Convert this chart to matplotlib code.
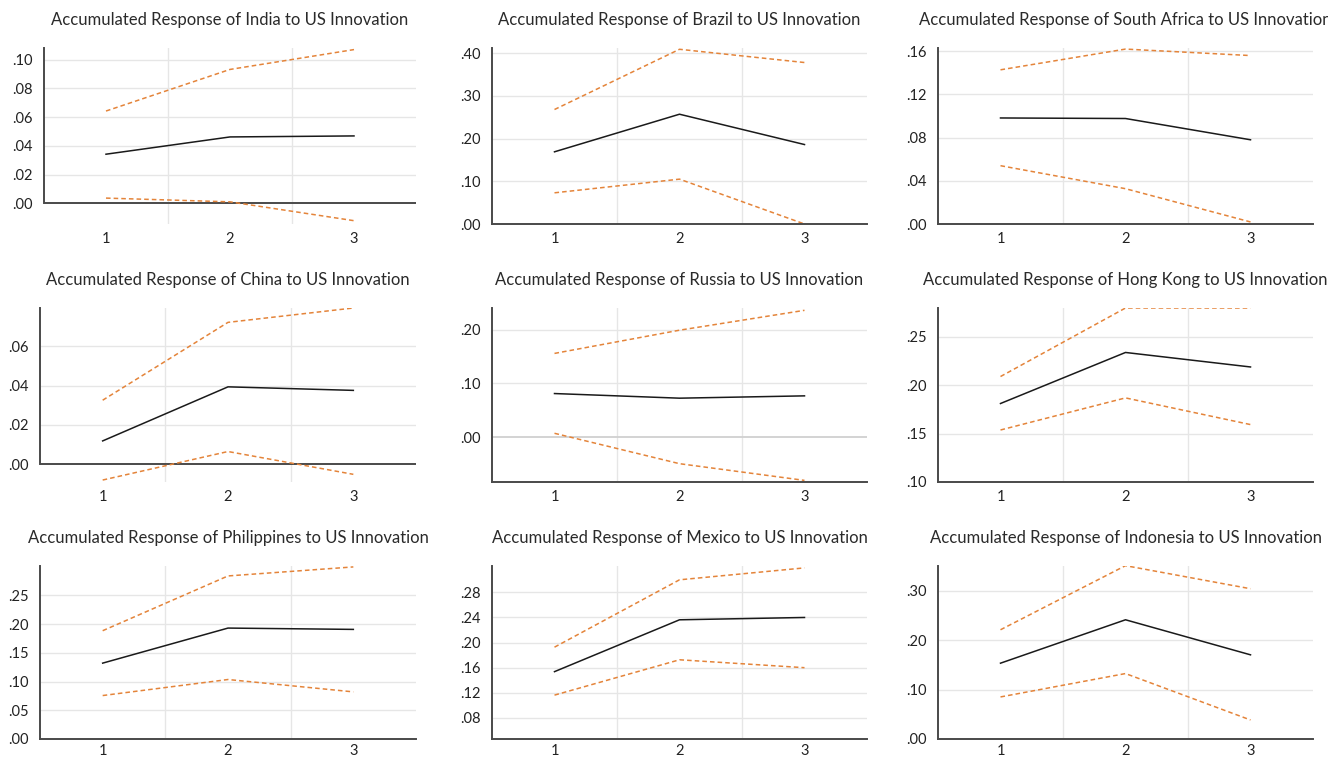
import matplotlib
matplotlib.use("Agg")
import matplotlib.pyplot as plt
from matplotlib.ticker import FuncFormatter

plt.rcParams['font.family'] = ['Lato', 'DejaVu Sans']

horizons = [1, 2, 3]

countries = ["India", "Brazil", "South Africa",
             "China", "Russia", "Hong Kong",
             "Philippines", "Mexico", "Indonesia"]

# accumulated impulse responses (point estimate)
response = [
    [0.0342, 0.0462, 0.0469],
    [0.169, 0.257, 0.186],
    [0.0982, 0.0977, 0.078],
    [0.0119, 0.0394, 0.0376],
    [0.0812, 0.0726, 0.0769],
    [0.1812, 0.234, 0.219],
    [0.132, 0.193, 0.1907],
    [0.1537, 0.2363, 0.240],
    [0.1534, 0.2412, 0.1703],
]

# +/- 2 S.E. bands
upper = [
    [0.0642, 0.0931, 0.1069],
    [0.268, 0.409, 0.378],
    [0.1428, 0.162, 0.156],
    [0.0326, 0.0722, 0.0795],
    [0.1557, 0.1988, 0.2357],
    [0.2091, 0.280, 0.280],
    [0.1884, 0.2837, 0.2994],
    [0.1927, 0.300, 0.319],
    [0.221, 0.3507, 0.304],
]
lower = [
    [0.0037, 0.0011, -0.012],
    [0.073, 0.105, 0.0],
    [0.054, 0.0327, 0.0019],
    [-0.008, 0.0065, -0.0051],
    [0.0074, -0.049, -0.080],
    [0.1538, 0.187, 0.1594],
    [0.0756, 0.1035, 0.082],
    [0.1163, 0.1726, 0.160],
    [0.0851, 0.1324, 0.0385],
]

y_ticks = [
    [0.00, 0.02, 0.04, 0.06, 0.08, 0.10],
    [0.0, 0.1, 0.2, 0.3, 0.4],
    [0.00, 0.04, 0.08, 0.12, 0.16],
    [0.00, 0.02, 0.04, 0.06],
    [0.0, 0.1, 0.2],
    [0.10, 0.15, 0.20, 0.25],
    [0.00, 0.05, 0.10, 0.15, 0.20, 0.25],
    [0.08, 0.12, 0.16, 0.20, 0.24, 0.28],
    [0.0, 0.1, 0.2, 0.3],
]
y_ranges = [
    (-0.0143, 0.108), (0.0, 0.412), (0.0, 0.163),
    (-0.009, 0.0795), (-0.083, 0.240), (0.10, 0.280),
    (0.0, 0.301), (0.0464, 0.322), (0.0, 0.350),
]

W, H = 1328, 757
fig = plt.figure(figsize=(W / 100, H / 100), dpi=100)

col_left = [[44, 492, 938], [40, 492, 938], [40, 492, 938]]
col_right = [416, 867, 1313]
row_top = [48, 308, 566]
row_bottom = [224, 482, 739]
x_pad = [6, 6, 3.5]

orange = '#E4843A'
grid_c = '#E6E6E6'
spine_c = '#4A4A4A'

fmt = FuncFormatter(lambda v, p: ("%.2f" % v).replace("0.", ".", 1))

for i, name in enumerate(countries):
    r, c = divmod(i, 3)
    l, rr = col_left[r][c], col_right[c]
    t, b = row_top[r], row_bottom[r]
    ax = fig.add_axes([l / W, 1 - b / H, (rr - l) / W, (b - t) / H])

    ax.set_xlim(0.5, 3.5)
    ax.set_ylim(*y_ranges[i])
    ax.set_xticks(horizons)
    ax.set_yticks(y_ticks[i])
    ax.yaxis.set_major_formatter(fmt)

    for gx in (1.5, 2.5):
        ax.axvline(gx, color=grid_c, lw=1.0, zorder=0)
    for gy in y_ticks[i]:
        if gy != 0:
            ax.axhline(gy, color=grid_c, lw=1.0, zorder=0)

    lo, hi = y_ranges[i]
    for s in ('top', 'right'):
        ax.spines[s].set_visible(False)
    ax.spines['left'].set_color(spine_c)
    ax.spines['left'].set_linewidth(1.4)
    ax.spines['bottom'].set_color(spine_c)
    ax.spines['bottom'].set_linewidth(1.4)

    if lo < 0:
        if name == "Russia":
            ax.axhline(0, color='#D0D0D0', lw=1.3, zorder=1)
        else:
            ax.spines['bottom'].set_visible(False)
            ax.spines['left'].set_bounds(0, hi)
            ax.axhline(0, color=spine_c, lw=1.4, zorder=1)

    ax.plot(horizons, upper[i], color=orange, lw=1.1, ls=(0, (3, 2)), zorder=2)
    ax.plot(horizons, lower[i], color=orange, lw=1.1, ls=(0, (3, 2)), zorder=2)
    ax.plot(horizons, response[i], color='#1A1A1A', lw=1.1, zorder=3)

    ax.tick_params(axis='both', length=0, labelsize=10.5, colors='#222222')
    ax.tick_params(axis='y', pad=8)
    ax.tick_params(axis='x', pad=x_pad[r])

    ax.annotate("Accumulated Response of %s to US Innovation" % name,
                xy=(0.5, 1), xycoords='axes fraction',
                xytext=(0, 20.5), textcoords='offset points',
                ha='center', va='center', fontsize=12, color='#2A2A2A',
                annotation_clip=False)

fig.savefig("out.png", dpi=100)
